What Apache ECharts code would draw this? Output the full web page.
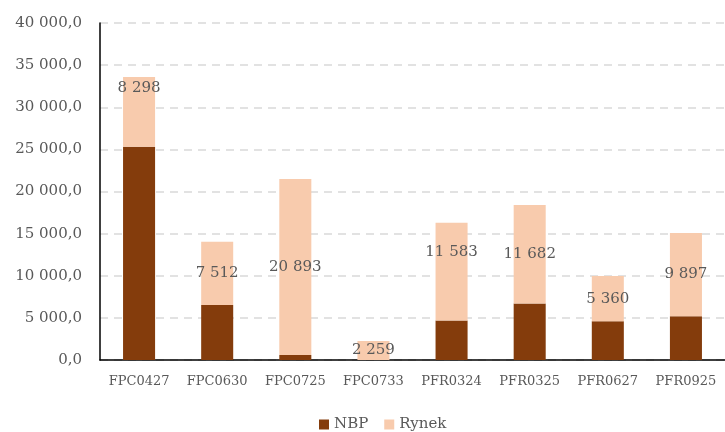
<!DOCTYPE html>
<html><head><meta charset="utf-8">
<script src="https://cdn.jsdelivr.net/npm/echarts@6/dist/echarts.min.js"></script>
<style>html,body{margin:0;padding:0;background:#fff}#c{width:725px;height:432px}</style>
</head><body><div id="c"></div>
<script>
const categories = ['FPC0427','FPC0630','FPC0725','FPC0733','PFR0324','PFR0325','PFR0627','PFR0925'];
const nbp = [25300, 6530, 600, 0, 4700, 6720, 4600, 5190];
const rynek = [8298, 7512, 20893, 2259, 11583, 11682, 5360, 9897];
const yTicks = {min: 0, max: 40000, interval: 5000};

function fmtThousands(v) {
  return String(Math.round(v)).replace(/\B(?=(\d{3})+(?!\d))/g, ' ');
}
const FONT = "'DejaVu Serif', serif";
const chart = echarts.init(document.getElementById('c'));
const labelOffsets = {0: [0, -24], 4: [0, -19]};
chart.setOption({
  animation: false,
  textStyle: {fontFamily: FONT},
  grid: {left: 100, right: 0, top: 23, bottom: 72, containLabel: false},
  legend: {
    top: 412, left: 314, itemWidth: 10, itemHeight: 10, itemGap: 16,
    icon: 'rect',
    textStyle: {fontFamily: FONT, fontSize: 15, color: '#595959'},
    data: ['NBP', 'Rynek']
  },
  xAxis: {
    type: 'category', data: categories,
    axisLine: {lineStyle: {color: '#000', width: 1.5}},
    axisTick: {show: false},
    axisLabel: {fontFamily: FONT, fontSize: 13, color: '#595959', margin: 15, interval: 0}
  },
  yAxis: {
    type: 'value', min: yTicks.min, max: yTicks.max, interval: yTicks.interval,
    axisLine: {show: true, lineStyle: {color: '#000', width: 1.5}},
    axisTick: {show: false},
    axisLabel: {fontFamily: FONT, fontSize: 15, color: '#595959', margin: 18,
      formatter: v => fmtThousands(v) + ',0'},
    splitLine: {lineStyle: {color: '#d9d9d9', type: [8, 6], width: 1.5}}
  },
  series: [
    {name: 'NBP', type: 'bar', stack: 't', data: nbp, barWidth: '41%',
      itemStyle: {color: '#843C0C'}},
    {name: 'Rynek', type: 'bar', stack: 't',
      data: rynek.map((v, i) => labelOffsets[i] ? {value: v, label: {offset: labelOffsets[i]}} : v),
      barWidth: '41%',
      itemStyle: {color: '#F8CBAD'},
      label: {show: true, position: 'inside', fontFamily: FONT, fontSize: 15, color: '#595959',
        formatter: p => fmtThousands(p.value)}}
  ]
});
</script></body></html>
